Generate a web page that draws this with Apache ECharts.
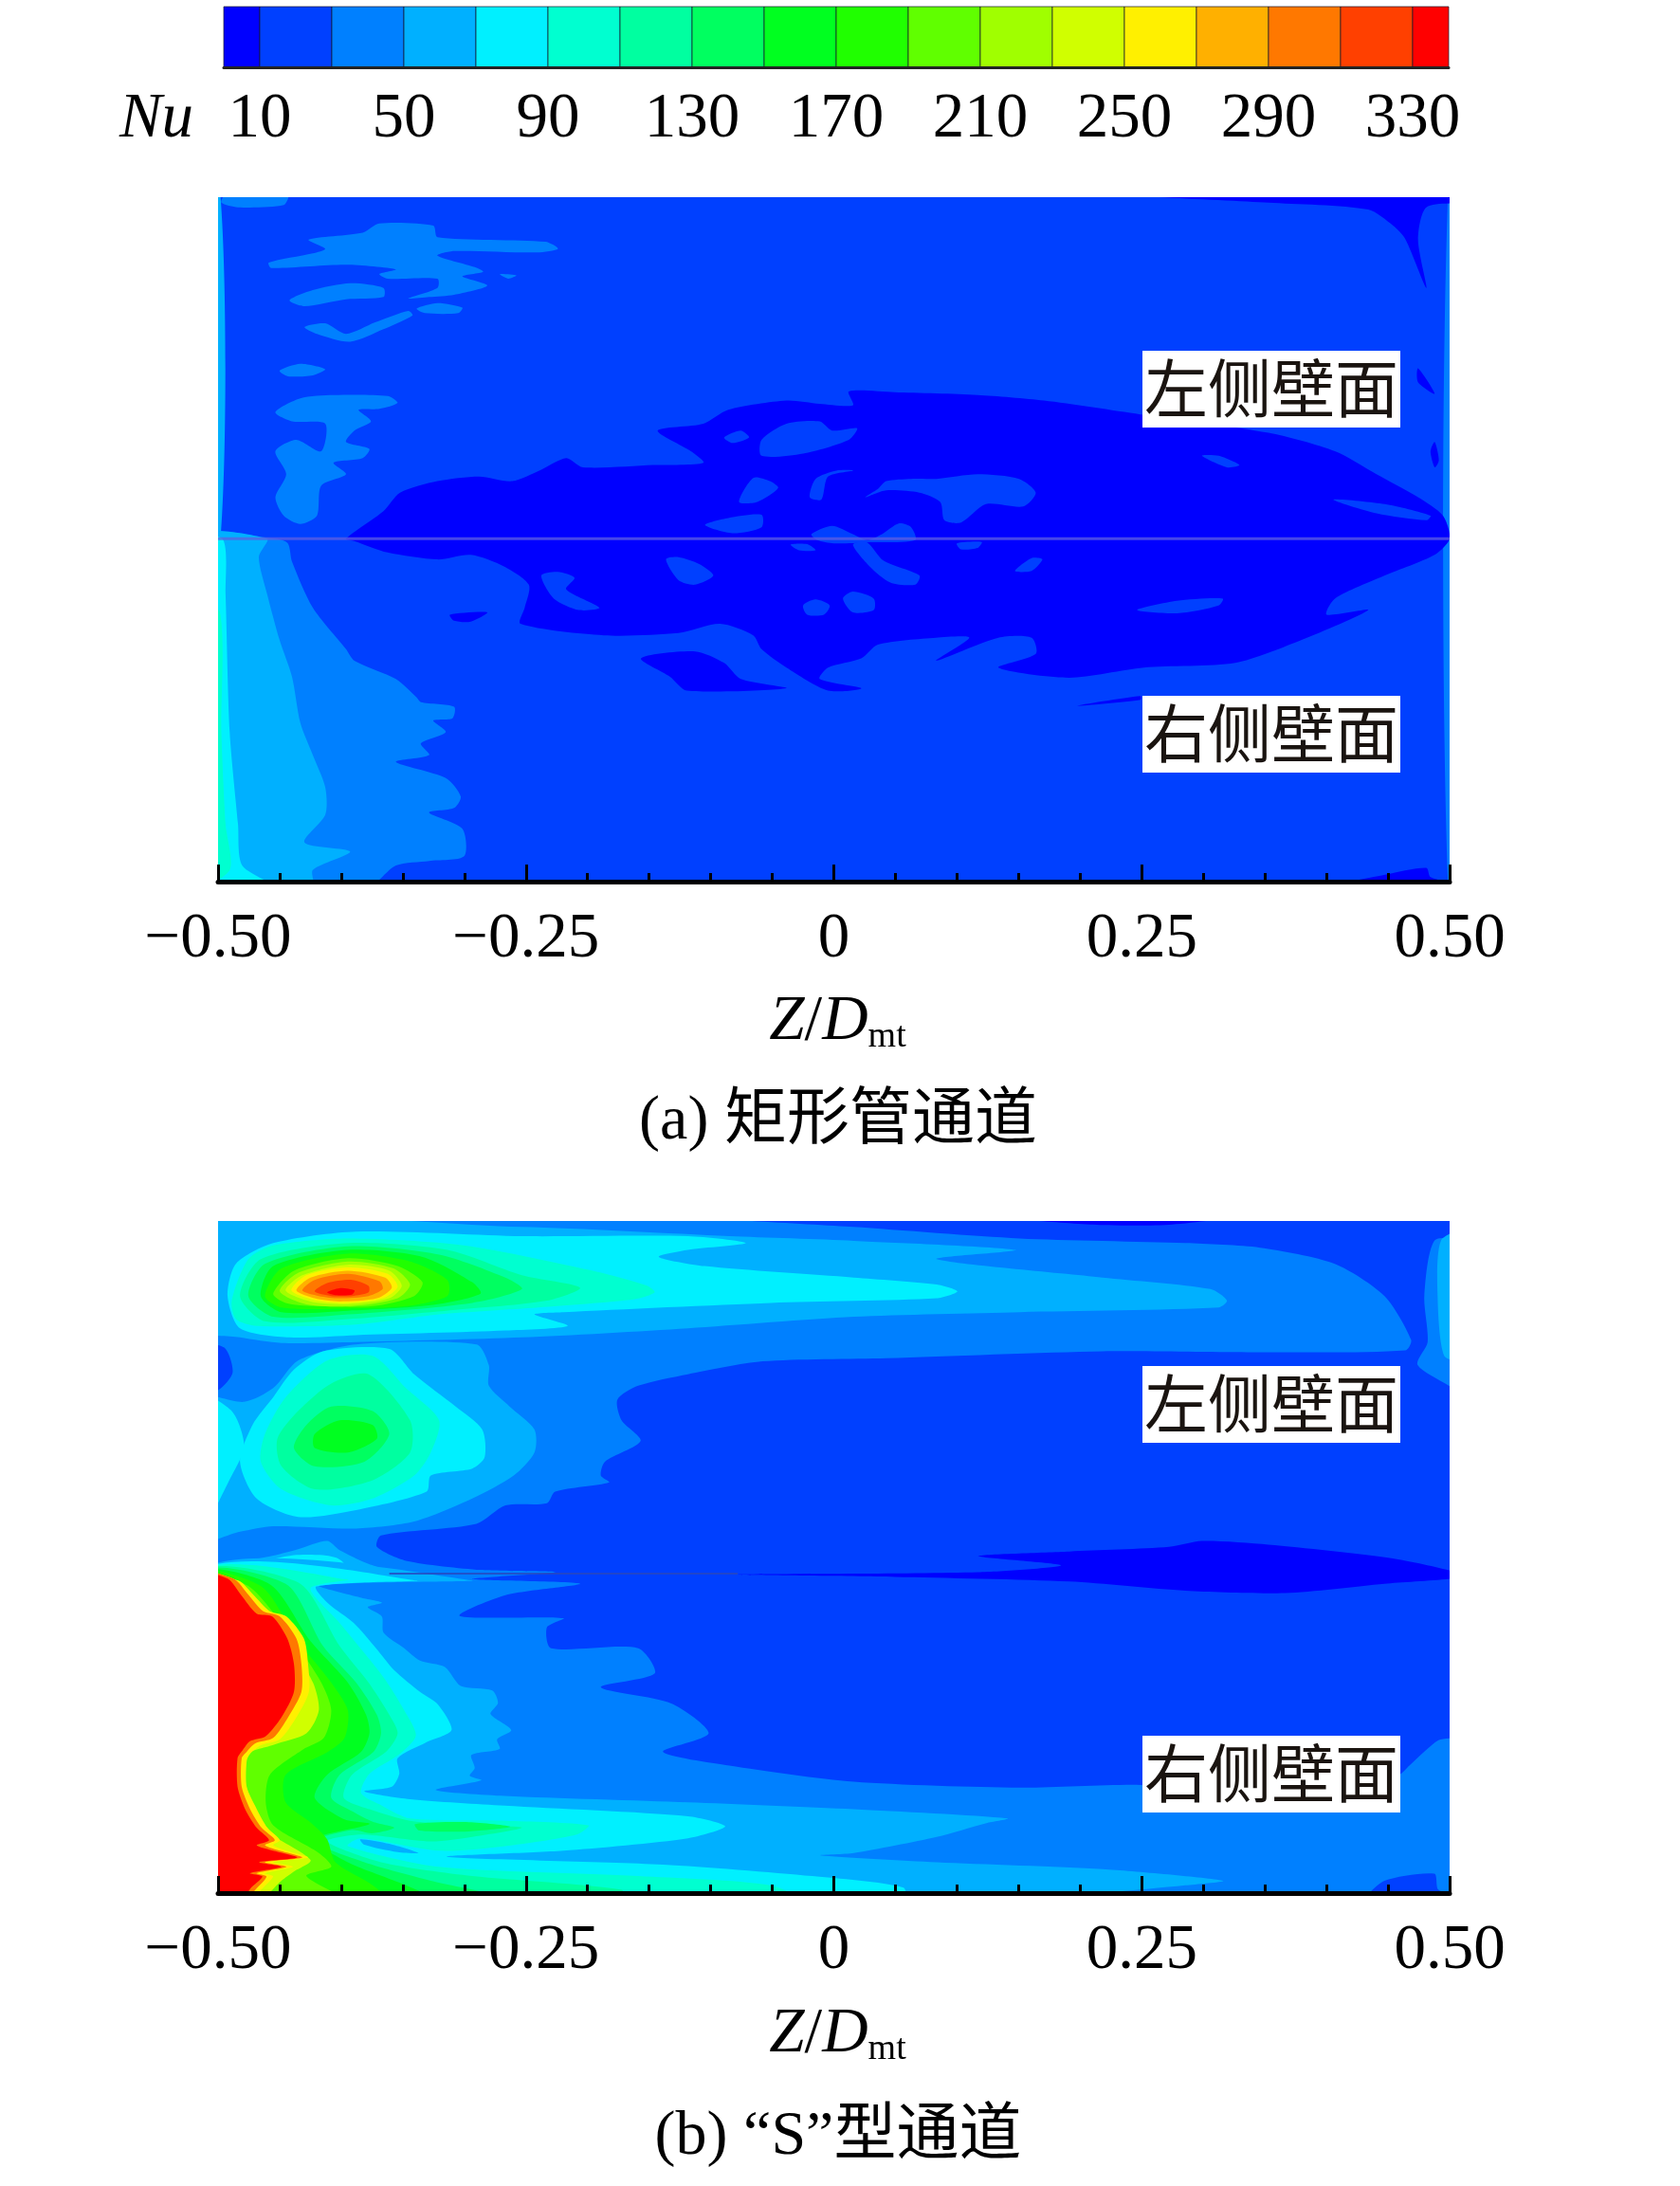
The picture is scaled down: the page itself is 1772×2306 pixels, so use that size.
<!DOCTYPE html>
<html><head><meta charset="utf-8">
<style>html,body{margin:0;padding:0;background:#fff}#c{width:1772px;height:2306px}</style>
<script src="https://cdn.jsdelivr.net/npm/echarts@6/dist/echarts.min.js"></script>
</head><body><div id="c"></div>
<script>
// Nu legend: band edges, band colours, labelled levels
const nuEdges=[0,10,30,50,70,90,110,130,150,170,190,210,230,250,270,290,310,330,340];
const nuColors=['#0000ff','#0040ff','#0080ff','#00b0ff','#00f0ff','#00ffd0','#00ffa0','#00ff60','#00ff20','#20ff00','#60ff00','#a0ff00','#d0ff00','#fff000','#ffb000','#ff7800','#ff4000','#ff0000'];
const nuLabels=[10,50,90,130,170,210,250,290,330];
const zTicks=[-0.5,-0.25,0,0.25,0.5];
// contour traces: [band index, z,y, z,y, ...]  z in 1/zUnits of Dmt from the centre, y down the wall
const zUnitsA=1482, yMaxA=1487, zUnitsB=1485, yMaxB=1460;
const wallA=[
[1,-900,-100,900,-100,900,1600,-900,1600],
[3,-770,0,-738,0,-738,742,-770,742],
[2,739,0,770,0,770,1487,739,1487],
[0,-587,742,-542,682,-522,642,-477,617,-427,607,-387,617,-352,592,-322,567,-302,587,-217,582,-157,577,-172,552,-212,507,-157,492,-127,462,-57,442,-17,449,23,452,18,422,73,424,173,430,253,442,369,472,523,512,603,552,653,602,703,652,733,692,741,742,723,777,663,822,603,872,593,907,643,897,563,962,483,1012,373,1022,283,1044,198,1022,243,992,238,957,198,957,123,1007,163,957,123,957,53,972,33,1002,-7,1022,-17,1047,33,1067,-7,1072,-57,1022,-87,982,-97,952,-137,927,-187,947,-277,952,-377,927,-372,892,-367,842,-397,802,-437,777,-477,787,-537,772,-577,747],
[1,-87,562,-87,527,-57,492,-17,487,-2,507,28,502,18,527,-37,557],
[1,-132,522,-112,507,-102,522,-122,534],
[1,-114,662,-97,610,-77,617,-67,632,-92,662],
[1,-29,652,-22,612,3,594,23,594,-7,607,-15,657],
[1,38,652,53,634,63,617,93,612,123,612,173,602,223,612,243,642,228,672,183,667,153,707,133,702,128,662,103,642,63,637],
[1,-155,712,-127,697,-87,690,-87,717,-122,730],
[1,-27,732,-2,714,23,732,40,745,58,732,78,709,93,717,98,745,40,750,0,752,-20,745],
[1,23,755,40,750,60,790,103,822,98,842,68,837,43,802],
[1,-202,787,-187,782,-162,797,-145,822,-167,842,-187,832],
[1,-352,822,-332,814,-312,827,-322,852,-282,892,-307,897,-337,872],
[1,-37,887,-22,874,-5,887,-12,907,-32,907],
[1,11,872,23,857,48,872,48,897,23,902],
[1,365,897,413,877,468,872,463,887,413,904],
[1,218,812,238,784,251,787,238,812],
[1,601,657,663,667,718,692,713,702,653,687],
[1,443,562,463,562,488,582,473,587],
[1,-52,755,-32,754,-22,767,-42,767],
[1,148,752,178,749,173,762,153,765],
[0,-232,1002,-167,987,-132,1012,-112,1047,-57,1067,-177,1072,-197,1042],
[0,-462,907,-417,902,-437,922,-457,920],
[0,293,1105,369,1084,369,1092],
[0,353,-5,760,-5,760,10,713,22,703,92,713,197,688,92,673,62,643,27,523,12],
[0,718,552,723,532,728,572,723,587],
[0,703,372,723,427,703,402],
[0,593,1500,663,1472,713,1457,718,1477,760,1500],
[2,-680,142,-627,122,-612,112,-632,92,-567,77,-547,57,-482,62,-477,87,-347,97,-332,112,-357,120,-457,117,-477,127,-432,152,-422,162,-447,172,-417,192,-457,212,-487,217,-512,220,-477,197,-477,177,-537,177,-547,167,-527,157,-587,147,-677,154],
[2,-655,224,-627,202,-582,187,-542,197,-542,217,-587,222,-637,237],
[2,-502,242,-477,230,-447,240,-452,252,-492,252],
[2,-637,282,-612,274,-587,297,-552,272,-512,247,-507,257,-542,287,-582,314,-622,297],
[2,-667,377,-642,362,-612,374,-627,387,-657,389],
[2,-672,467,-642,437,-602,430,-537,432,-525,447,-547,460,-572,462,-557,487,-577,507,-587,532,-559,547,-567,567,-602,577,-587,602,-617,627,-622,692,-642,710,-662,692,-672,652,-659,602,-672,552,-647,527,-617,552,-612,492,-652,487],
[2,-402,167,-382,170,-392,177],
[2,-732,-5,-657,-5,-662,17,-717,22,-737,12],
[2,-770,742,-672,742,-657,752,-652,792,-627,892,-587,982,-577,1007,-527,1047,-502,1087,-497,1097,-457,1107,-459,1132,-482,1137,-467,1162,-497,1187,-487,1212,-527,1227,-467,1262,-449,1302,-457,1327,-487,1337,-447,1372,-445,1432,-487,1442,-527,1452,-562,1500,-770,1500],
[3,-770,742,-682,742,-692,782,-682,862,-667,962,-652,1042,-642,1142,-627,1212,-612,1282,-612,1342,-637,1402,-582,1422,-627,1462,-627,1500,-770,1500],
[4,-770,742,-735,744,-732,862,-727,1162,-717,1362,-712,1452,-672,1500,-770,1500],
[5,-770,900,-739,900,-737,1162,-732,1362,-727,1462,-770,1500]
];
const wallB=[
[2,-900,-100,900,-100,900,1600,-900,1600],
[1,-126,-5,760,-5,760,33,724,43,712,163,716,263,704,313,760,393,760,1113,729,1128,694,1183,681,1203,524,1243,370,1225,224,1231,24,1218,-126,1183,-206,1153,-151,1113,-196,1048,-281,1013,-216,983,-236,928,-341,928,-346,883,-326,863,-451,858,-396,813,-306,788,-436,778,-336,763,-426,758,-516,738,-551,708,-546,683,-431,658,-396,618,-346,613,-336,588,-271,568,-281,553,-276,523,-233,478,-256,433,-261,388,-236,358,-176,333,-86,305,64,298,324,283,504,285,689,281,696,258,664,163,604,93,514,58,424,48,224,38,24,13],
[3,732,43,760,23,760,300,736,293,728,163],
[4,748,120,760,100,760,240,748,220],
[0,-116,768,174,763,274,748,174,728,284,718,404,708,444,695,524,703,674,733,760,771,664,788,544,808,424,803,284,783,74,773],
[0,224,-5,464,-5,404,8,324,9],
[1,644,1470,664,1433,724,1418,729,1453,760,1470],
[1,-770,270,-735,275,-725,330,-745,370,-770,360],
[3,-770,8,-376,13,-126,33,24,43,219,63,124,83,324,123,454,148,474,173,464,188,224,198,24,208,-176,233,-376,253,-576,263,-666,265,-716,253,-770,233],
[3,-576,268,-431,268,-416,313,-416,358,-391,403,-361,453,-361,503,-386,553,-436,603,-506,653,-576,668,-676,663,-716,675,-770,695,-770,383,-711,393,-676,363,-646,303],
[4,-770,375,-726,413,-711,488,-726,553,-770,690],
[4,-731,163,-721,93,-676,48,-576,23,-376,33,-176,33,-106,48,-176,63,-211,78,-156,98,24,123,124,138,149,153,124,168,-76,178,-326,198,-361,203,-321,228,-396,238,-576,248,-656,253,-716,233],
[4,-616,283,-536,278,-506,333,-456,403,-424,453,-421,513,-436,538,-486,553,-491,588,-576,628,-646,643,-696,603,-716,523,-701,443,-676,383,-651,323],
[5,-611,303,-556,293,-516,363,-476,433,-486,503,-506,553,-556,603,-606,618,-666,583,-691,523,-686,463,-661,383],
[6,-606,353,-561,333,-511,433,-511,503,-556,563,-626,583,-666,533,-671,473,-646,413],
[7,-606,403,-556,413,-536,463,-566,523,-626,533,-651,493,-636,443],
[8,-596,433,-556,443,-551,473,-586,503,-626,493,-626,463],
[5,-726,173,-706,83,-676,53,-586,38,-446,53,-286,110,-226,140,-216,155,-240,170,-356,188,-476,203,-576,225,-696,228,-721,213],
[6,-716,163,-691,83,-586,48,-466,63,-376,118,-306,145,-346,173,-456,193,-586,213,-686,218],
[7,-706,163,-686,93,-586,55,-476,73,-396,123,-376,148,-436,178,-586,203,-676,208],
[8,-691,163,-676,98,-586,63,-496,78,-436,133,-426,158,-486,183,-586,195,-666,198],
[9,-686,163,-666,103,-586,71,-511,88,-466,128,-466,163,-516,185,-606,191,-666,188],
[10,-676,158,-651,108,-586,81,-526,98,-496,133,-506,163,-556,185,-626,185,-661,178],
[11,-668,153,-646,113,-586,88,-531,103,-511,138,-526,168,-581,185,-636,181],
[12,-661,151,-641,118,-586,95,-536,108,-521,141,-536,168,-586,181,-631,175],
[13,-654,151,-636,118,-586,101,-538,115,-526,143,-544,168,-591,178,-628,171],
[14,-648,151,-631,123,-586,108,-541,123,-533,145,-551,168,-596,175,-626,168],
[15,-641,151,-626,128,-586,115,-548,131,-544,148,-561,163,-596,168,-621,163],
[16,-626,153,-611,135,-581,128,-561,141,-561,155,-581,163,-606,163],
[17,-611,155,-596,146,-578,151,-581,160,-601,161],
[3,-770,759,-726,743,-681,729,-646,713,-611,695,-596,715,-564,743,-536,763,-770,767],
[4,-770,758,-700,743,-651,726,-616,726,-598,733,-588,750,-594,763,-770,767],
[6,-770,762,-700,750,-651,740,-624,750,-662,763,-770,766],
[9,-738,762,-700,757,-670,758,-700,764],
[15,-742,763,-716,758,-731,767],
[3,-770,767,-436,781,-621,791,-571,818,-545,829,-562,839,-545,859,-543,894,-518,928,-499,955,-469,969,-450,1010,-412,1020,-405,1047,-414,1071,-389,1106,-406,1126,-403,1147,-437,1160,-433,1188,-439,1205,-425,1215,-480,1236,-397,1249,-176,1263,24,1278,209,1298,184,1308,124,1338,24,1373,-16,1378,124,1393,324,1408,469,1433,424,1443,274,1470,274,1480,-770,1480],
[4,-770,770,-503,781,-624,794,-609,832,-579,873,-552,928,-530,976,-499,1023,-477,1051,-461,1106,-492,1133,-526,1167,-524,1201,-533,1229,-566,1239,-511,1256,-397,1270,-176,1293,-131,1315,-176,1341,-326,1368,-466,1381,-206,1398,-26,1423,84,1448,84,1480,-770,1480],
[5,-770,770,-586,779,-631,798,-596,873,-564,943,-541,996,-518,1063,-504,1118,-525,1160,-560,1201,-570,1243,-545,1270,-511,1298,-396,1303,-296,1313,-310,1333,-396,1358,-476,1368,-571,1341,-586,1358,-476,1403,-236,1423,-76,1443,-36,1480,-770,1480],
[6,-770,770,-646,785,-596,923,-561,1003,-536,1073,-526,1113,-540,1153,-581,1203,-591,1253,-560,1278,-511,1303,-436,1313,-376,1318,-436,1338,-486,1348,-571,1333,-611,1348,-546,1393,-436,1423,-256,1453,-256,1480,-770,1480],
[7,-770,770,-661,788,-616,923,-576,1003,-551,1073,-546,1113,-555,1153,-596,1203,-606,1253,-580,1283,-556,1305,-530,1318,-556,1330,-581,1323,-626,1348,-566,1393,-486,1433,-376,1480,-770,1480],
[7,-505,1310,-440,1306,-390,1316,-440,1326,-500,1324],
[8,-770,770,-681,788,-631,913,-586,1003,-564,1073,-560,1113,-570,1153,-611,1203,-626,1253,-590,1300,-560,1310,-626,1343,-586,1393,-516,1443,-476,1480,-770,1480],
[9,-770,770,-691,793,-646,913,-606,1003,-586,1063,-590,1123,-610,1153,-661,1203,-661,1263,-630,1308,-611,1343,-601,1393,-556,1443,-536,1480,-770,1480],
[10,-770,770,-706,793,-651,913,-618,1003,-606,1063,-615,1123,-640,1148,-680,1203,-685,1263,-676,1313,-621,1373,-606,1403,-636,1423,-586,1480,-770,1480],
[12,-770,770,-716,803,-661,903,-628,1003,-621,1063,-636,1113,-676,1138,-711,1163,-711,1263,-686,1323,-631,1388,-651,1413,-666,1433,-696,1480,-770,1480],
[13,-770,767,-718,781,-700,812,-680,848,-660,859,-639,907,-634,962,-633,1023,-648,1078,-668,1126,-691,1139,-704,1158,-708,1173,-708,1229,-696,1277,-683,1318,-668,1345,-676,1356,-658,1369,-634,1383,-676,1393,-652,1403,-686,1417,-676,1424,-691,1454,-700,1480,-770,1480],
[15,-770,767,-724,777,-706,812,-688,848,-668,859,-648,907,-642,962,-642,1023,-658,1078,-676,1123,-698,1135,-708,1153,-714,1167,-714,1229,-704,1277,-690,1318,-674,1345,-686,1356,-666,1369,-641,1383,-686,1393,-660,1403,-696,1417,-684,1424,-698,1454,-710,1480,-770,1480],
[17,-770,767,-731,777,-715,812,-696,853,-677,859,-659,907,-651,962,-651,1023,-666,1078,-685,1119,-704,1130,-713,1150,-719,1167,-719,1229,-710,1277,-696,1318,-681,1345,-696,1356,-674,1369,-647,1383,-693,1393,-666,1403,-704,1417,-689,1424,-704,1451,-715,1480,-770,1480],
[3,-571,1343,-536,1353,-501,1373,-526,1371,-566,1355]
];
const seamA=[[-741,742],[741,742]];
const seamB=[[-536,766],[-116,766]];

const serif='"Liberation Serif","Noto Sans CJK SC",serif';
const FS=67;
function contourSeries(trace,zUnits,ax){
  return {type:'custom',xAxisIndex:ax,yAxisIndex:ax,clip:true,silent:true,animation:false,z:2,
    data:trace.map((t,i)=>[i,0]),encode:{x:-1,y:-1},
    renderItem(params,api){
      const t=trace[params.dataIndex],pts=[];
      for(let k=1;k<t.length;k+=2) pts.push(api.coord([t[k]/zUnits,t[k+1]]));
      return {type:'polygon',shape:{points:pts,smooth:0.26},style:{fill:nuColors[t[0]]}};
    }};
}
function seamSeries(seam,zUnits,ax,color,w){
  return {type:'line',xAxisIndex:ax,yAxisIndex:ax,data:seam.map(p=>[p[0]/zUnits,p[1]]),symbol:'none',silent:true,animation:false,z:3,
    lineStyle:{color,width:w}};
}
const zLabel=v=>{ if(v===0) return '0'; return (v<0?'\u2212':'')+Math.abs(v).toFixed(2); };
function zAxis(idx,gap){
  return {type:'value',gridIndex:idx,min:-0.5,max:0.5,interval:0.25,position:'bottom',z:10,
    axisLine:{show:true,onZero:false,lineStyle:{color:'#000',width:5}},
    axisTick:{show:true,inside:true,length:18,lineStyle:{color:'#000',width:3}},
    minorTick:{show:true,splitNumber:5,length:9,lineStyle:{color:'#000',width:3}},
    splitLine:{show:false},minorSplitLine:{show:false},
    axisLabel:{fontFamily:serif,fontSize:FS,color:'#000',margin:28,formatter:zLabel,showMinLabel:true,showMaxLabel:true,hideOverlap:false},
    name:'{i|Z}/{i|D}{s|mt}',nameLocation:'middle',nameGap:gap,
    nameTextStyle:{padding:[0,0,0,8],rich:{i:{fontFamily:serif,fontSize:FS,fontStyle:'italic',color:'#000'},s:{fontFamily:serif,fontSize:38,color:'#000',verticalAlign:'bottom',padding:[32,0,0,0]}},fontFamily:serif,fontSize:FS,color:'#000'}
  };
}
function hidden(idx,max){return {type:'value',gridIndex:idx,min:0,max,inverse:true,show:false};}
function wallTag(text,x,y){
  return [{type:'rect',z:100,shape:{x,y,width:272,height:81},style:{fill:'#fff'}},
    {type:'text',z:101,x:x+136,y:y+40,style:{text,font:'67px "Noto Sans CJK SC"',fill:'#1a1410',align:'center',verticalAlign:'middle'}}];
}
function caption(text,x,y){return {type:'text',z:101,x,y,style:{text,font:'66px "Liberation Serif","Noto Sans CJK SC"',fill:'#000',align:'center',verticalAlign:'middle'}};}

const chart=echarts.init(document.getElementById('c'),null,{renderer:'canvas',width:1772,height:2306});
chart.setOption({
  animation:false,backgroundColor:'#fff',
  grid:[
    {left:236,width:1292,top:7,height:64},
    {left:230,width:1299,top:208,height:722},
    {left:230,width:1299,top:1288,height:709}
  ],
  xAxis:[
    {type:'value',gridIndex:0,min:0,max:340,z:10,
     axisLine:{show:true,onZero:false,lineStyle:{color:'#222',width:3}},axisTick:{show:false},splitLine:{show:false},
     axisLabel:{customValues:nuLabels,fontFamily:serif,fontSize:FS,color:'#000',margin:22}},
    zAxis(1,113),zAxis(2,114)
  ],
  yAxis:[hidden(0,1),hidden(1,yMaxA),hidden(2,yMaxB)],
  series:[
    {type:'custom',xAxisIndex:0,yAxisIndex:0,silent:true,animation:false,
     data:nuColors.map((c,i)=>[nuEdges[i],nuEdges[i+1]]),encode:{x:[0,1],y:-1},
     renderItem(params,api){
       const a=api.coord([api.value(0),0]),b=api.coord([api.value(1),1]);
       return {type:'rect',shape:{x:a[0],y:b[1],width:b[0]-a[0],height:a[1]-b[1]},
         style:{fill:nuColors[params.dataIndex],stroke:'rgba(20,20,40,0.7)',lineWidth:1}};
     }},
    contourSeries(wallA,zUnitsA,1),
    contourSeries(wallB,zUnitsB,2),
    seamSeries(seamA,zUnitsA,1,'rgba(95,95,225,0.75)',3),
    seamSeries(seamB,zUnitsB,2,'rgba(40,70,190,0.8)',2)
  ],
  graphic:[
    {type:'text',z:101,x:165,y:126,style:{text:'Nu',font:'italic 67px "Liberation Serif"',fill:'#000',align:'center',verticalAlign:'middle'}},
    ...wallTag('左侧壁面',1205,370),
    ...wallTag('右侧壁面',1205,734),
    ...wallTag('左侧壁面',1205,1441),
    ...wallTag('右侧壁面',1205,1831),
    caption('(a) 矩形管通道',884,1184),
    caption('(b) “S”型通道',884,2255)
  ]
});
</script></body></html>
